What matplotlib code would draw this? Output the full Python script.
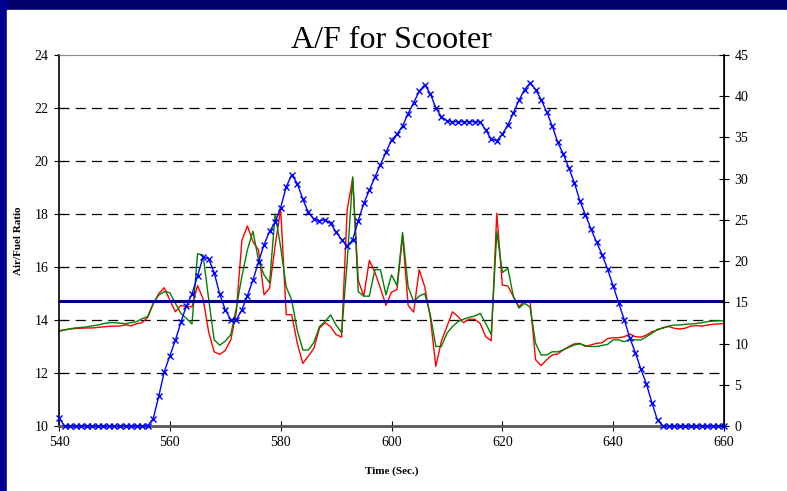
import numpy as np
import matplotlib
matplotlib.use("Agg")
import matplotlib.pyplot as plt
from matplotlib.patches import Rectangle

plt.rcParams['font.family'] = ['Liberation Serif', 'DejaVu Serif']

# temps, une mesure par seconde
temps = np.arange(540, 661)

# vitesse (axe de droite)
vitesse = [
    1.0, 0, 0, 0, 0, 0, 0, 0, 0, 0, 0, 0, 0, 0, 0, 0, 0,
    0.9, 3.6, 6.6, 8.5, 10.4, 12.6, 14.6, 16.0, 18.2, 20.5, 20.3, 18.6, 16.0,
    14.1, 12.9, 12.9, 14.1, 15.8, 17.7, 19.9, 22.0, 23.6, 24.7, 26.5, 29.0,
    30.5, 29.4, 27.5, 25.9, 25.1, 24.9, 25.0, 24.6, 23.5, 22.6, 21.8, 22.6,
    24.9, 27.0, 28.6, 30.2, 31.7, 33.2, 34.7, 35.4, 36.4, 37.9, 39.2, 40.6,
    41.4, 40.3, 38.6, 37.5, 37.0, 36.9, 36.9, 36.9, 36.9, 36.9, 36.9, 35.9,
    34.8, 34.6, 35.4, 36.5, 38.0, 39.5, 40.8, 41.6, 40.8, 39.6, 38.1, 36.4,
    34.4, 33.0, 31.3, 29.5, 27.3, 25.6, 23.9, 22.3, 20.8, 19.0, 17.0, 14.9,
    12.9, 10.7, 8.9, 6.9, 5.1, 2.8, 0.7,
    0, 0, 0, 0, 0, 0, 0, 0, 0, 0, 0, 0,
]

# rapport air/carburant, capteur 1 (rouge)
af_rouge = [
    13.6, 13.63, 13.66, 13.68, 13.69, 13.7, 13.7, 13.72, 13.74, 13.76, 13.77,
    13.77, 13.82, 13.78, 13.86, 13.9, 14.1, 14.6, 15.0, 15.22, 14.75, 14.31,
    14.55, 14.5, 14.5, 15.3, 14.8, 13.55, 12.8, 12.7, 12.85, 13.25, 14.3, 17.0,
    17.55, 16.95, 16.65, 14.95, 15.2, 16.8, 18.2, 14.2, 14.2, 13.12, 12.36,
    12.64, 12.93, 13.69, 13.9, 13.75, 13.45, 13.35, 18.15, 19.35, 15.5, 14.9,
    16.25, 15.8, 15.2, 14.55, 15.05, 15.15, 17.2, 14.55, 14.3, 15.9, 15.25,
    14.1, 12.25, 13.2, 13.75, 14.31, 14.13, 13.9, 14.03, 14.03, 13.87, 13.37,
    13.22, 18.03, 15.32, 15.28, 14.88, 14.5, 14.73, 14.73, 12.5, 12.28, 12.5,
    12.68, 12.72, 12.87, 13.0, 13.1, 13.12, 13.0, 13.06, 13.12, 13.14, 13.3,
    13.33, 13.33, 13.37, 13.47, 13.37, 13.35, 13.43, 13.56, 13.62, 13.72,
    13.75, 13.69, 13.66, 13.69, 13.77, 13.79, 13.77, 13.81, 13.84, 13.85,
    13.87,
]

# rapport air/carburant, capteur 2 (vert)
af_vert = [
    13.57, 13.62, 13.67, 13.7, 13.72, 13.74, 13.78, 13.81, 13.86, 13.9, 13.9,
    13.88, 13.86, 13.9, 13.94, 14.05, 14.13, 14.63, 14.94, 15.07, 15.03, 14.63,
    14.25, 14.06, 13.85, 16.5, 16.45, 14.8, 13.25, 13.05, 13.2, 13.45, 14.45,
    15.65, 16.65, 17.35, 16.25, 15.7, 15.4, 18.0, 16.75, 15.25, 14.75, 13.6,
    12.87, 12.87, 13.15, 13.75, 13.94, 14.19, 13.81, 13.52, 16.2, 19.4, 15.07,
    14.9, 14.9, 15.9, 15.9, 14.95, 15.7, 15.3, 17.3, 15.25, 14.7, 14.9, 15.0,
    14.2, 13.0, 13.0, 13.5, 13.75, 13.94, 14.03, 14.1, 14.15, 14.25, 13.87,
    13.45, 17.33, 15.79, 15.95, 14.88, 14.45, 14.63, 14.49, 13.12, 12.68,
    12.68, 12.8, 12.8, 12.87, 12.97, 13.06, 13.1, 13.03, 13.0, 13.0, 13.04,
    13.08, 13.25, 13.25, 13.18, 13.27, 13.25, 13.25, 13.37, 13.5, 13.65,
    13.69, 13.77, 13.81, 13.81, 13.84, 13.85, 13.87, 13.9, 13.94, 13.96,
    13.97, 13.97,
]

stoechio = 14.7

fig = plt.figure(figsize=(7.87, 4.91), dpi=100, facecolor='#000068')
fig.patches.append(Rectangle((0, 0), 7 / 787, 1, transform=fig.transFigure,
                             color='#000090', zorder=-2))
fig.patches.append(Rectangle((7 / 787, 0), 1, 1 - 10 / 491,
                             transform=fig.transFigure, color='white', zorder=-1))

ax = fig.add_axes([59 / 787, 1 - 426 / 491, (724 - 59) / 787, (426 - 55) / 491])
ax.plot(temps, af_rouge, color='red', lw=1)
ax.plot(temps, af_vert, color='#008000', lw=1)
ax.axhline(stoechio, color='#000080', lw=2.2)

ax.set_xlim(540, 660)
ax.set_ylim(10, 24)
ax.set_xticks(np.arange(540, 661, 20))
ax.set_yticks(np.arange(10, 25, 2))
for y in range(12, 24, 2):
    ax.axhline(y, color='black', lw=0.9, ls=(0, (8, 5)), zorder=0.5)

ax.spines['top'].set_color('#888888')
ax.spines['bottom'].set_color('#555555')
ax.spines['bottom'].set_linewidth(2)
ax.spines['left'].set_linewidth(1.2)
ax.tick_params(direction='inout', length=7, labelsize=10, pad=4)

ax.set_ylabel('Air/Fuel Ratio', fontsize=8, fontweight='bold', labelpad=8)
ax.set_xlabel('Time (Sec.)', fontsize=8, fontweight='bold', labelpad=12)
ax.set_title('A/F for Scooter', fontsize=23, pad=4)

ax2 = ax.twinx()
ax2.plot(temps, vitesse, color='blue', lw=1, marker='x', ms=4.5, mew=1,
         clip_on=False)
ax2.set_ylim(0, 45)
ax2.set_yticks(np.arange(0, 46, 5))
ax2.tick_params(direction='inout', length=7, labelsize=10, pad=4)
ax2.spines['top'].set_visible(False)
ax2.spines['bottom'].set_visible(False)
ax2.spines['left'].set_visible(False)
ax2.spines['right'].set_linewidth(1.2)

fig.savefig('out.png', dpi=100, facecolor=fig.get_facecolor())
